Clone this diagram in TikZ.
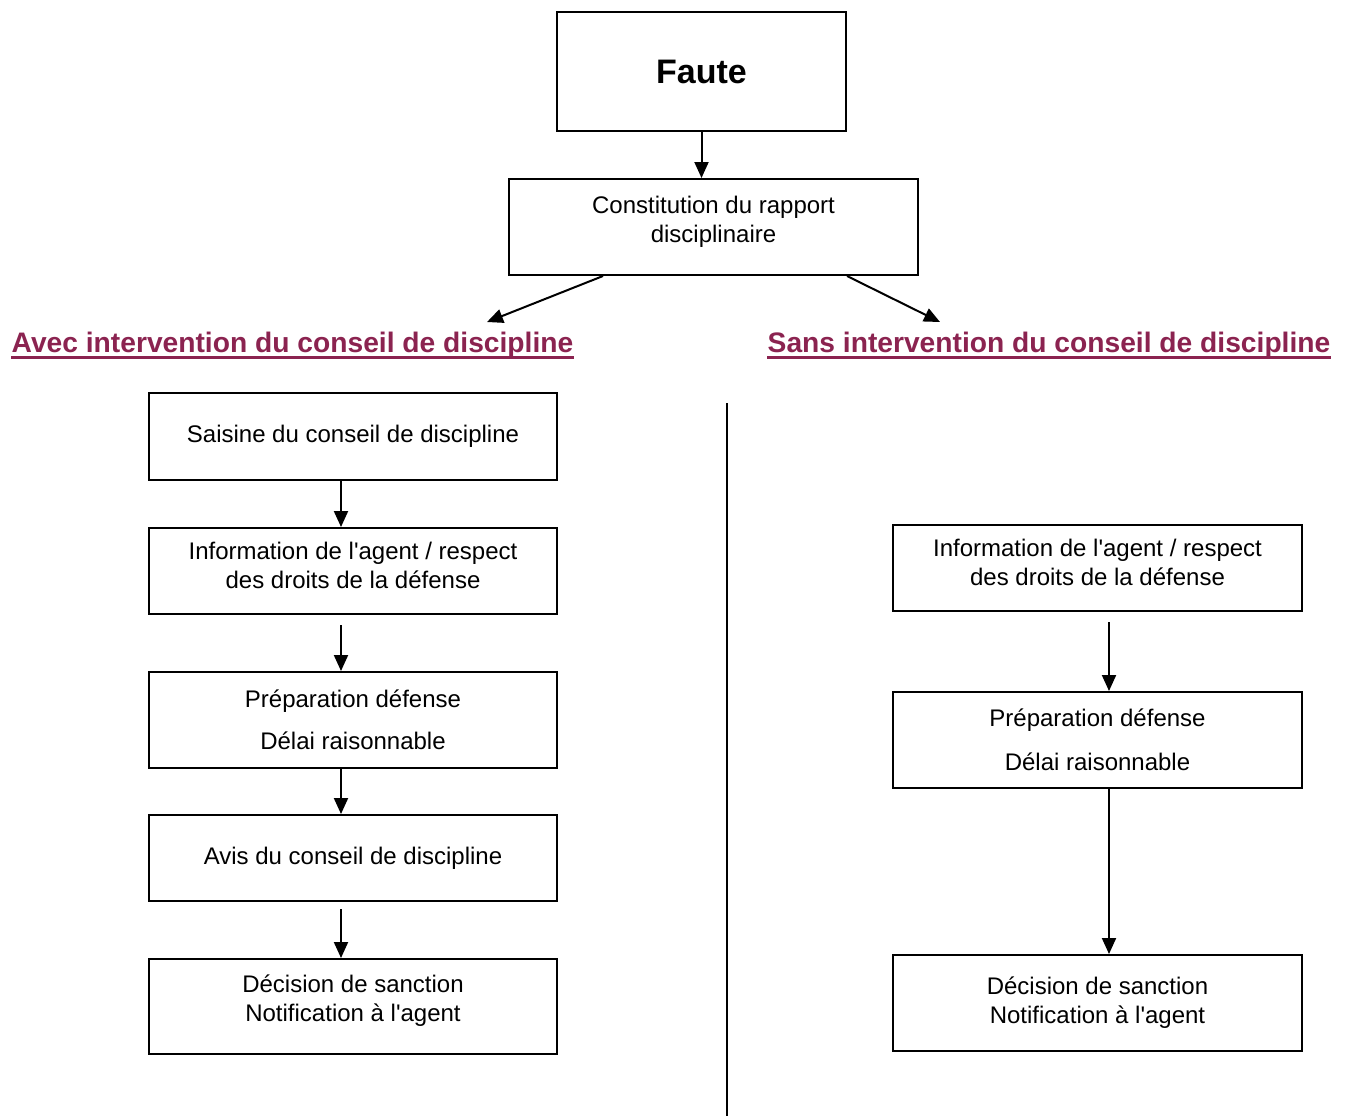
\documentclass[tikz,border=0pt]{standalone}
\usepackage{fontspec}
\setmainfont{Liberation Sans}
\usepackage{tikz}
\usetikzlibrary{arrows.meta}
\definecolor{bordeaux}{RGB}{139,35,80}
\newcommand{\creux}[1]{\rule[-#1]{0pt}{0pt}}

\begin{document}
\begin{tikzpicture}[x=0.5pt,y=-0.5pt,>={Triangle[length=8pt,width=7pt]},
	boite/.style={draw,line width=1pt,minimum width=204pt,align=center,inner sep=0pt,font=\fontsize{12}{14.5}\selectfont},
	fleche/.style={->,line width=1pt},
	titre/.style={text=bordeaux,inner sep=0pt,anchor=base,font=\bfseries\fontsize{14.1}{16}\selectfont}]
	\useasboundingbox (0,0) rectangle (1348,1116);
	\node[boite,minimum width=144.5pt,minimum height=59.5pt,font=\bfseries\fontsize{17}{20}\selectfont] (faute) at (701.5,71.5) {Faute};
	\node[boite,minimum width=204.5pt,minimum height=48pt] (rapport) at (713.5,227) {Constitution du rapport\\disciplinaire\creux{7.6pt}};
	\draw[fleche] (faute.south) -- (faute.south |- rapport.north);
	%
	\node[titre] (avec) at (292.5,352) {Avec intervention du conseil de discipline};
	\node[titre] (sans) at (1049,352) {Sans intervention du conseil de discipline};
	\draw[bordeaux,line width=1.5pt] ([yshift=-2.5pt]avec.base west) -- ([yshift=-2.5pt]avec.base east);
	\draw[bordeaux,line width=1.5pt] ([yshift=-2.5pt]sans.base west) -- ([yshift=-2.5pt]sans.base east);
	\coordinate (pointeA) at (487,322);
	\coordinate (pointeS) at (940,322);
	\draw[fleche] ([xshift=47.5pt]rapport.south west) -- (pointeA);
	\draw[fleche] ([xshift=-36pt]rapport.south east) -- (pointeS);
	%
	\coordinate (sep1) at (727,403);
	\coordinate (sep2) at (727,1116);
	\draw[line width=1pt] (sep1) -- (sep2);
	%
	\node[boite,minimum height=43.5pt] (saisine) at (353,436.5) {Saisine du conseil de discipline};
	\node[boite,minimum height=43pt] (info) at (353,571) {Information de l\textquotesingle agent / respect\\des droits de la défense\creux{5.6pt}};
	\node[boite,minimum height=48pt] (prepa) at (353,720) {Préparation défense\\[6.5pt]Délai raisonnable};
	\node[boite,minimum height=43pt] (avis) at (353,858) {Avis du conseil de discipline};
	\node[boite,minimum height=47.5pt] (decision) at (353,1006.5) {Décision de sanction\\Notification à l\textquotesingle agent\creux{8.6pt}};
	\draw[fleche] ([xshift=-6pt]saisine.south) -- ([xshift=-6pt]info.north);
	\draw[fleche] ([xshift=-6pt,yshift=-5pt]info.south) -- ([xshift=-6pt]prepa.north);
	\draw[fleche] ([xshift=-6pt]prepa.south) -- ([xshift=-6pt]avis.north);
	\draw[fleche] ([xshift=-6pt,yshift=-3.5pt]avis.south) -- ([xshift=-6pt]decision.north);
	%
	\node[boite,minimum width=204.5pt,minimum height=43pt] (infoB) at (1097.5,568) {Information de l\textquotesingle agent / respect\\des droits de la défense\creux{5.6pt}};
	\node[boite,minimum width=204.5pt,minimum height=48pt] (prepaB) at (1097.5,740) {Préparation défense\\[7.5pt]Délai raisonnable};
	\node[boite,minimum width=204.5pt,minimum height=48pt] (decisionB) at (1097.5,1003) {Décision de sanction\\Notification à l\textquotesingle agent};
	\draw[fleche] ([xshift=5.75pt,yshift=-5pt]infoB.south) -- ([xshift=5.75pt]prepaB.north);
	\draw[fleche] ([xshift=5.75pt]prepaB.south) -- ([xshift=5.75pt]decisionB.north);
\end{tikzpicture}
\end{document}
